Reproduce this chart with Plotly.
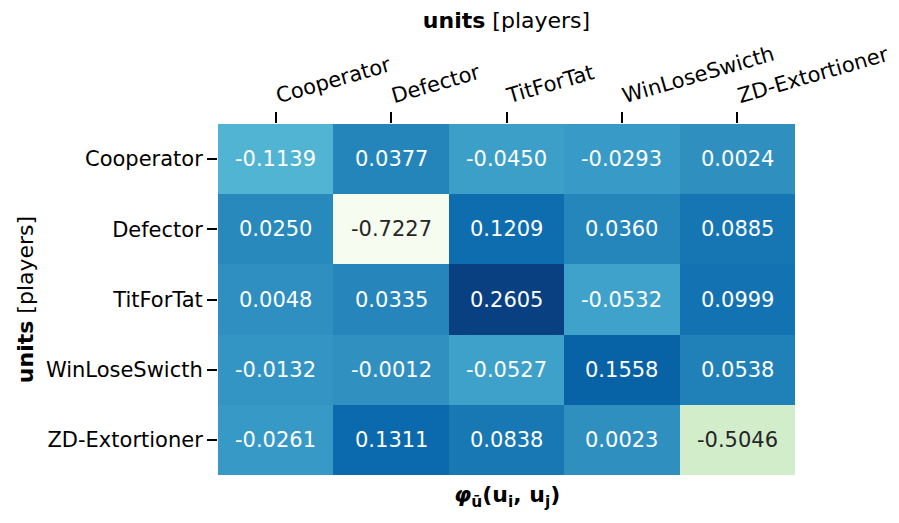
import plotly.graph_objs as go

players = ['Cooperator', 'Defector', 'TitForTat', 'WinLoseSwicth', 'ZD-Extortioner']

# rows = players (y), columns = players (x)
phi_cooperator = [-0.1139, 0.0377, -0.0450, -0.0293, 0.0024]
phi_defector = [0.0250, -0.7227, 0.1209, 0.0360, 0.0885]
phi_titfortat = [0.0048, 0.0335, 0.2605, -0.0532, 0.0999]
phi_winloseswitch = [-0.0132, -0.0012, -0.0527, 0.1558, 0.0538]
phi_zd = [-0.0261, 0.1311, 0.0838, 0.0023, -0.5046]

z = [phi_cooperator, phi_defector, phi_titfortat, phi_winloseswitch, phi_zd]

zmin = min(min(r) for r in z)
zmax = max(max(r) for r in z)

fig = go.Figure()
fig.add_trace(go.Heatmap(
    z=z, x=players, y=players,
    colorscale='GnBu', zmin=zmin, zmax=zmax,
    showscale=False, xgap=0, ygap=0,
))

# cell labels, dark text on light cells
for i, row in enumerate(z):
    for j, v in enumerate(row):
        frac = (v - zmin) / (zmax - zmin)
        fig.add_annotation(
            x=players[j], y=players[i], text='%.4f' % v, showarrow=False,
            font=dict(size=21, color='#262626' if frac < 0.3 else 'white'),
        )

fig.add_annotation(
    x=0.5, y=-0.015, xref='paper', yref='paper', yanchor='top', showarrow=False,
    text='<b><i>φ</i><sub>ū</sub>(u<sub>i</sub>, u<sub>j</sub>)</b>',
    font=dict(size=22, color='black'),
)

fig.update_xaxes(
    side='top', tickangle=-16, ticks='outside', ticklen=11, tickwidth=2,
    tickcolor='black', showgrid=False, zeroline=False, showline=False,
    tickfont=dict(size=21, color='black'),
    title=dict(text='<b>units</b> [players]', font=dict(size=22, color='black'), standoff=6),
)
fig.update_yaxes(
    autorange='reversed', ticks='outside', ticklen=10, tickwidth=2,
    tickcolor='black', showgrid=False, zeroline=False, showline=False,
    tickfont=dict(size=21, color='black'),
    title=dict(text='<b>units</b> [players]', font=dict(size=22, color='black'), standoff=6),
)

fig.update_layout(
    width=899, height=523,
    margin=dict(l=210, r=112, t=112, b=56),
    plot_bgcolor='white', paper_bgcolor='white',
    font=dict(family='DejaVu Sans', color='black'),
)

fig.write_html('out.html')
